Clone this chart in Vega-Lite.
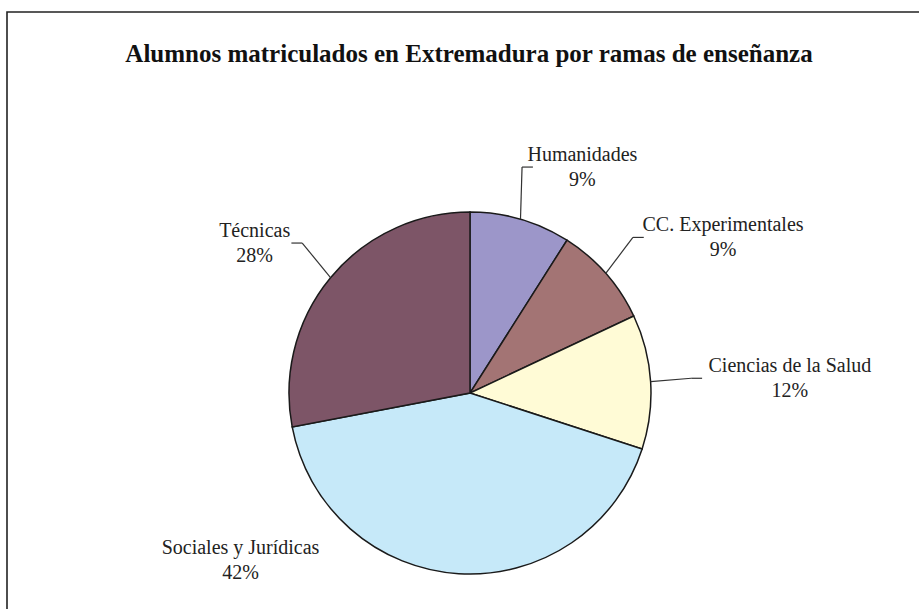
{
  "$schema": "https://vega.github.io/schema/vega-lite/v6.json",
  "width": 960,
  "height": 620,
  "autosize": {"type": "none"},
  "padding": {"left": 7, "top": 12, "right": 0, "bottom": 0},
  "background": "white",
  "config": {"view": {"stroke": "#222222", "strokeWidth": 1.6}, "font": "Liberation Serif"},
  "title": {
    "text": "Alumnos matriculados en Extremadura por ramas de enseñanza",
    "font": "Liberation Serif",
    "fontSize": 25,
    "fontWeight": "bold",
    "color": "#111111",
    "anchor": "middle",
    "baseline": "alphabetic",
    "offset": -75,
    "dx": -18
  },
  "data": {
    "values": [
      {"rama": "Humanidades", "pct": 9},
      {"rama": "CC. Experimentales", "pct": 9},
      {"rama": "Ciencias de la Salud", "pct": 12},
      {"rama": "Sociales y Jurídicas", "pct": 42},
      {"rama": "Técnicas", "pct": 28}
    ]
  },
  "transform": [
    {"window": [{"op": "row_number", "as": "orden"}, {"op": "sum", "field": "pct", "as": "acum"}], "frame": [null, 0]},
    {"joinaggregate": [{"op": "sum", "field": "pct", "as": "total"}]},
    {"calculate": "2*PI*(datum.acum - datum.pct/2)/datum.total", "as": "medio"},
    {"calculate": "cos(datum.medio) < -0.9 ? datum.medio + 0.65 : datum.medio", "as": "ang"},
    {"calculate": "datum.ang != datum.medio ? 1.22 : 1.3", "as": "dist"},
    {"calculate": "sin(datum.ang) >= 0 ? 1 : -1", "as": "lado"},
    {"calculate": "datum.dist*sin(datum.ang)", "as": "ax"},
    {"calculate": "datum.dist*cos(datum.ang)", "as": "ay"},
    {"calculate": "datum.ax + datum.lado*length(datum.rama)*0.0235", "as": "tx"},
    {"calculate": "sin(datum.medio)", "as": "ex"},
    {"calculate": "cos(datum.medio)", "as": "ey"},
    {"calculate": "datum.ax - datum.lado*0.075", "as": "lx"},
    {"calculate": "datum.ax - datum.lado*0.015", "as": "hx"},
    {"calculate": "datum.rama + '\\n' + format(datum.pct/datum.total, '.0%')", "as": "etiqueta"}
  ],
  "layer": [
    {
      "mark": {"type": "arc", "outerRadius": 181, "stroke": "#1a1a1a", "strokeWidth": 1.5},
      "encoding": {
        "theta": {"field": "pct", "type": "quantitative", "stack": true},
        "order": {"field": "orden", "type": "quantitative"},
        "color": {
          "field": "rama",
          "type": "nominal",
          "scale": {
            "domain": ["Humanidades", "CC. Experimentales", "Ciencias de la Salud", "Sociales y Jurídicas", "Técnicas"],
            "range": ["#9c96c9", "#a37474", "#fffbd6", "#c6e9f9", "#7d5567"]
          },
          "legend": null
        },
        "x": {"datum": 0, "type": "quantitative", "scale": {"domain": [-2.558, 2.746], "nice": false, "zero": false}, "axis": null},
        "y": {"datum": 0, "type": "quantitative", "scale": {"domain": [-1.32, 2.105], "nice": false, "zero": false}, "axis": null}
      }
    },
    {
      "transform": [{"filter": "datum.ang == datum.medio"}],
      "mark": {"type": "rule", "color": "#333333", "strokeWidth": 1.2},
      "encoding": {
        "x": {"field": "ex", "type": "quantitative", "scale": {"domain": [-2.558, 2.746], "nice": false, "zero": false}, "axis": null},
        "y": {"field": "ey", "type": "quantitative", "scale": {"domain": [-1.32, 2.105], "nice": false, "zero": false}, "axis": null},
        "x2": {"field": "lx"},
        "y2": {"field": "ay"}
      }
    },
    {
      "transform": [{"filter": "datum.ang == datum.medio"}],
      "mark": {"type": "rule", "color": "#333333", "strokeWidth": 1.2},
      "encoding": {
        "x": {"field": "lx", "type": "quantitative", "scale": {"domain": [-2.558, 2.746], "nice": false, "zero": false}, "axis": null},
        "y": {"field": "ay", "type": "quantitative", "scale": {"domain": [-1.32, 2.105], "nice": false, "zero": false}, "axis": null},
        "x2": {"field": "hx"},
        "y2": {"field": "ay"}
      }
    },
    {
      "mark": {"type": "text", "font": "Liberation Serif", "fontSize": 20, "lineHeight": 25, "lineBreak": "\n", "align": "center", "baseline": "middle", "dy": -12.5, "color": "#222222"},
      "encoding": {
        "x": {"field": "tx", "type": "quantitative", "scale": {"domain": [-2.558, 2.746], "nice": false, "zero": false}, "axis": null},
        "y": {"field": "ay", "type": "quantitative", "scale": {"domain": [-1.32, 2.105], "nice": false, "zero": false}, "axis": null},
        "text": {"field": "etiqueta", "type": "nominal"}
      }
    }
  ]
}
